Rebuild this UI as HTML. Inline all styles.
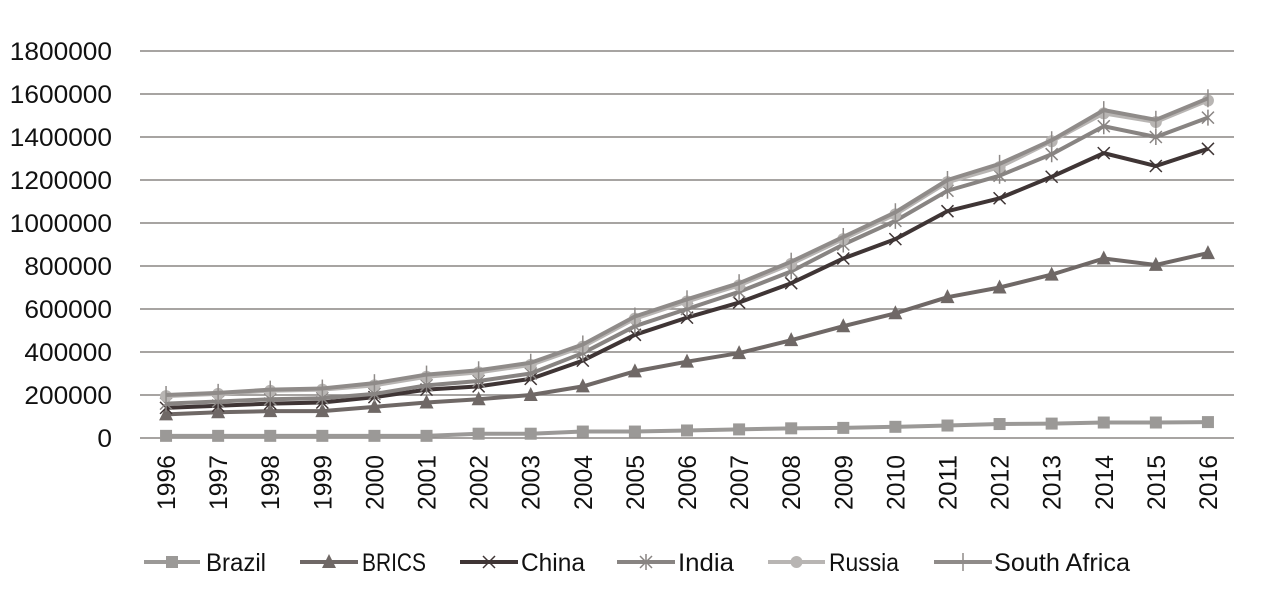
<!DOCTYPE html>
<html><head><meta charset="utf-8"><style>
body{margin:0;background:#fff;}
svg text{font-family:"Liberation Sans",sans-serif;fill:#111;}
</style></head><body>
<svg id="chart" width="1262" height="608" xmlns="http://www.w3.org/2000/svg"></svg>
<script>
const years=["1996","1997","1998","1999","2000","2001","2002","2003","2004","2005","2006","2007","2008","2009","2010","2011","2012","2013","2014","2015","2016"];
const brazil=[10000,10000,10000,10000,10000,10000,20000,20000,30000,30000,35000,40000,45000,47000,52000,58000,65000,67000,72000,72000,74000];
const brics=[110000,120000,125000,125000,145000,165000,180000,200000,240000,310000,355000,395000,455000,520000,580000,655000,700000,760000,835000,805000,860000];
const china=[140000,150000,160000,165000,190000,225000,240000,275000,360000,480000,560000,630000,720000,835000,925000,1055000,1115000,1215000,1325000,1265000,1345000];
const india=[160000,170000,180000,185000,205000,245000,265000,300000,395000,520000,600000,680000,775000,900000,1010000,1150000,1220000,1320000,1450000,1400000,1490000];
const russia=[195000,205000,220000,225000,245000,285000,305000,340000,425000,555000,635000,710000,810000,925000,1040000,1190000,1260000,1380000,1510000,1470000,1570000];
const southAfrica=[200000,210000,225000,230000,255000,295000,315000,350000,435000,565000,645000,720000,820000,935000,1050000,1200000,1275000,1385000,1525000,1480000,1580000];
const yTicks=[0,200000,400000,600000,800000,1000000,1200000,1400000,1600000,1800000];

const NS="http://www.w3.org/2000/svg";
const svg=document.getElementById('chart');
const X0=140,X1=1234,Y0=438,Y1=51,YMAX=1800000;
const bw=(X1-X0)/years.length;
const x=i=>X0+(i+0.5)*bw;
const y=v=>Y0-(v/YMAX)*(Y0-Y1);
function mk(t,a,p){const e=document.createElementNS(NS,t);for(const k in a)e.setAttribute(k,a[k]);(p||svg).appendChild(e);return e;}

yTicks.forEach(t=>{
  const g=mk('line',{x1:X0,x2:X1,y1:y(t),y2:y(t),stroke:'#8a8684','stroke-width':1.5});
  
  
  const l=mk('text',{x:112,y:y(t)+9,'text-anchor':'end','font-size':25,textLength:String(t).length*14.6,lengthAdjust:'spacingAndGlyphs'});
  l.textContent=t;
  
  
});
years.forEach((yr,i)=>{
  const l=mk('text',{x:0,y:0,'text-anchor':'end','font-size':25,textLength:55,lengthAdjust:'spacingAndGlyphs',transform:`translate(${x(i)+9},455) rotate(-90)`});
  l.textContent=yr;
  
  
});

function marker(type,cx,cy,col,g){
  if(type==='sq')mk('rect',{x:cx-6,y:cy-6,width:12,height:12,fill:col},g);
  else if(type==='tri')mk('polygon',{points:`${cx},${cy-8} ${cx+7},${cy+6} ${cx-7},${cy+6}`,fill:col},g);
  else if(type==='x'){mk('path',{d:`M${cx-6} ${cy-6}L${cx+6} ${cy+6}M${cx+6} ${cy-6}L${cx-6} ${cy+6}`,stroke:col,'stroke-width':1.5},g);}
  else if(type==='star'){mk('path',{d:`M${cx-6} ${cy-6}L${cx+6} ${cy+6}M${cx+6} ${cy-6}L${cx-6} ${cy+6}M${cx} ${cy-8}L${cx} ${cy+8}`,stroke:col,'stroke-width':1.5},g);}
  else if(type==='dot')mk('circle',{cx,cy,r:6,fill:col},g);
  else if(type==='plus')mk('path',{d:`M${cx} ${cy-9}L${cx} ${cy+9}`,stroke:col,'stroke-width':1.5},g);
}
const series=[
 ['Brazil',brazil,'#9b9997','sq'],
 ['BRICS',brics,'#6f6866','tri'],
 ['China',china,'#3f3535','x'],
 ['India',india,'#888482','star'],
 ['Russia',russia,'#b8b5b3','dot'],
 ['South Africa',southAfrica,'#8f8b89','plus']
];
series.forEach(([n,d,c,m])=>{
  const g=mk('g',{});
  
  
  mk('polyline',{points:d.map((v,i)=>x(i)+','+y(v)).join(' '),fill:'none',stroke:c,'stroke-width':4,'stroke-linejoin':'round'},g);
  d.forEach((v,i)=>marker(m,x(i),y(v),c,g));
});
// legend: [lineStart, lineEnd, textStart, textEnd]
const leg=[[144,200,206,266],[300,358,362,426],[460,518,521,585],[617,675,678,734],[768,825,829,899],[934,992,994,1130]];
series.forEach(([n,d,c,m],i)=>{
  const g=mk('g',{});
  
  
  const L=leg[i];
  mk('line',{x1:L[0],x2:L[1],y1:562,y2:562,stroke:c,'stroke-width':4},g);
  marker(m,(L[0]+L[1])/2,562,c,g);
  const t=mk('text',{x:L[2],y:571,'font-size':25,textLength:L[3]-L[2],lengthAdjust:'spacingAndGlyphs'},g);
  t.textContent=n;
});
</script>
</body></html>
